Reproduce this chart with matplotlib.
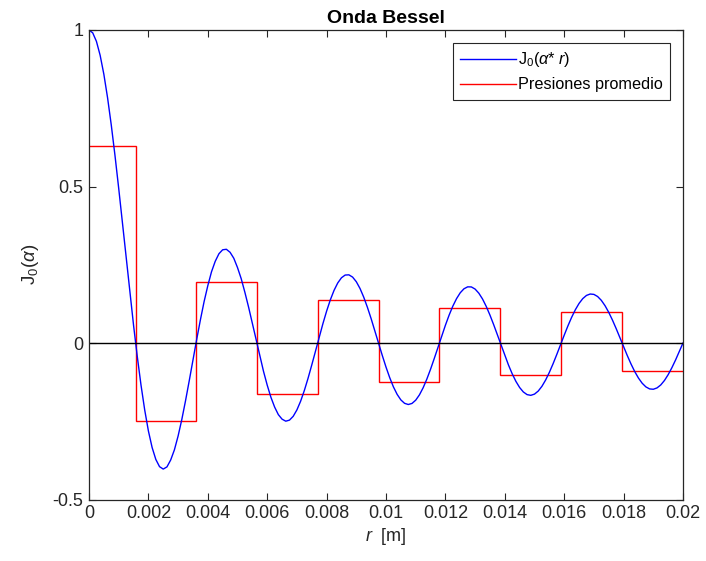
import numpy as np
import matplotlib
matplotlib.use("Agg")
import matplotlib.pyplot as plt

# ---- data ----
r_grid = np.linspace(0.0, 0.02, 161)  # sampling positions of the readings [m]
bessel_vals = [
    1.0000, 0.9909, 0.9637, 0.9192, 0.8586, 0.7836, 0.6963, 0.5990, 0.4941, 0.3845,
    0.2733, 0.1632, 0.0568, -0.0429, -0.1338, -0.2136, -0.2810, -0.3339, -0.3720, -0.3951,
    -0.4028, -0.3958, -0.3738, -0.3415, -0.2972, -0.2443, -0.1845, -0.1206, -0.0547, 0.0109,
    0.0736, 0.1321, 0.1830, 0.2276, 0.2610, 0.2852, 0.2978, 0.2994, 0.2898, 0.2708,
    0.2410, 0.2054, 0.1614, 0.1139, 0.0625, 0.0103, -0.0411, -0.0902, -0.1345, -0.1734,
    -0.2047, -0.2288, -0.2433, -0.2498, -0.2464, -0.2343, -0.2138, -0.1860, -0.1519, -0.1129,
    -0.0704, -0.0261, 0.0184, 0.0615, 0.1017, 0.1377, 0.1680, 0.1918, 0.2084, 0.2171,
    0.2178, 0.2106, 0.1958, 0.1742, 0.1465, 0.1138, 0.0776, 0.0389, -0.0007, -0.0398,
    -0.0769, -0.1107, -0.1402, -0.1641, -0.1818, -0.1927, -0.1965, -0.1931, -0.1827, -0.1658,
    -0.1431, -0.1154, -0.0838, -0.0495, -0.0138, 0.0221, 0.0567, 0.0890, 0.1177, 0.1417,
    0.1605, 0.1732, 0.1794, 0.1791, 0.1723, 0.1592, 0.1406, 0.1169, 0.0892, 0.0586,
    0.0261, -0.0071, -0.0397, -0.0706, -0.0986, -0.1228, -0.1423, -0.1565, -0.1649, -0.1672,
    -0.1633, -0.1536, -0.1384, -0.1182, -0.0939, -0.0664, -0.0367, -0.0059, 0.0249, 0.0546,
    0.0820, 0.1062, 0.1264, 0.1418, 0.1520, 0.1565, 0.1553, 0.1485, 0.1363, 0.1192,
    0.0979, 0.0732, 0.0460, 0.0173, -0.0118, -0.0403, -0.0671, -0.0913, -0.1120, -0.1285,
    -0.1402, -0.1467, -0.1478, -0.1435, -0.1341, -0.1198, -0.1012, -0.0791, -0.0542, -0.0275,
    0.0000,
]
step_edges = [0.0, 0.00157, 0.00361, 0.00565, 0.0077, 0.00975, 0.0118, 0.01385, 0.0159, 0.01795, 0.02]
step_levels = [0.63, -0.248, 0.195, -0.162, 0.137, -0.126, 0.113, -0.103, 0.099, -0.091]

xticks = [0, 0.002, 0.004, 0.006, 0.008, 0.01, 0.012, 0.014, 0.016, 0.018, 0.02]
xtick_labels = ["0", "0.002", "0.004", "0.006", "0.008", "0.01", "0.012", "0.014", "0.016", "0.018", "0.02"]
yticks = [-0.5, 0, 0.5, 1]
ytick_labels = ["-0.5", "0", "0.5", "1"]

# ---- style ----
plt.rcParams['font.family'] = ['Liberation Sans', 'DejaVu Sans']
plt.rcParams['mathtext.fontset'] = 'custom'
plt.rcParams['mathtext.rm'] = 'Liberation Sans'
plt.rcParams['mathtext.it'] = 'Liberation Sans:italic'
plt.rcParams['axes.unicode_minus'] = False

dark = (0.15, 0.15, 0.15)

fig = plt.figure(figsize=(7.06, 5.61), dpi=100)
fig.patch.set_facecolor('white')
ax = fig.add_axes([89/706, 1 - 499.5/561, (683 - 89)/706, (499.5 - 30)/561])

ax.plot(r_grid, bessel_vals, color=(0, 0, 1), lw=1.0, label=r"J$_0$($\alpha$* $r$)")
ax.stairs(step_levels, step_edges, baseline=None, color=(1, 0, 0), lw=1.0,
          label="Presiones promedio")
ax.plot([0, 0.02], [0, 0], color='black', lw=1.0)

ax.set_xlim(0, 0.02)
ax.set_ylim(-0.5, 1)
ax.set_xticks(xticks)
ax.set_xticklabels(xtick_labels)
ax.set_yticks(yticks)
ax.set_yticklabels(ytick_labels)
ax.tick_params(direction='in', length=5, width=0.8, colors=dark, labelsize=13,
               top=True, right=True, pad=4)
for s in ax.spines.values():
    s.set_color(dark)
    s.set_linewidth(0.9)

ax.set_title("Onda Bessel", fontsize=14, fontweight='bold', color='black', pad=5)
ax.set_xlabel(r"$r$  [m]", fontsize=13, color=dark, labelpad=3)
ax.set_ylabel(r"J$_0$($\alpha$)", fontsize=13.5, color=dark, labelpad=8)

leg = ax.legend(loc='upper right', fontsize=11.7, frameon=True, fancybox=False,
                framealpha=1, edgecolor=dark, handlelength=3.4, handletextpad=0.15,
                borderaxespad=0.8, borderpad=0.45, labelspacing=0.5)
leg.get_frame().set_linewidth(0.8)

fig.savefig("out.png", dpi=100, facecolor='white')
